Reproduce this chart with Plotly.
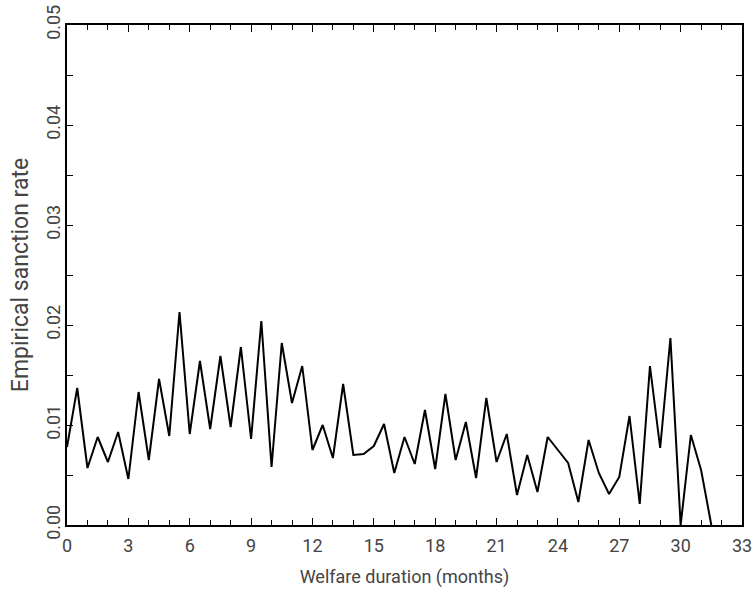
import plotly.graph_objects as go

months = [i * 0.5 for i in range(64)]
sanction_rate = [
    0.0078, 0.0137, 0.0057, 0.0088, 0.0063, 0.0093, 0.0046, 0.0133,
    0.0065, 0.0146, 0.0089, 0.0213, 0.0091, 0.0164, 0.0096, 0.0169,
    0.0098, 0.0178, 0.0086, 0.0204, 0.0058, 0.0182, 0.0122, 0.0159,
    0.0075, 0.0100, 0.0067, 0.0141, 0.0070, 0.0071, 0.0079, 0.0101,
    0.0052, 0.0088, 0.0061, 0.0115, 0.0056, 0.0131, 0.0065, 0.0103,
    0.0047, 0.0127, 0.0063, 0.0091, 0.0030, 0.0070, 0.0033, 0.0088,
    0.0075, 0.0062, 0.0023, 0.0085, 0.0052, 0.0031, 0.0048, 0.0109,
    0.0021, 0.0159, 0.0077, 0.0187, 0.0000, 0.0090, 0.0055, 0.0000,
]
x_ticks = list(range(0, 34, 3))
y_ticks = [0.0, 0.01, 0.02, 0.03, 0.04, 0.05]

fig = go.Figure()
fig.add_trace(go.Scatter(x=months, y=sanction_rate, mode="lines",
                         line=dict(color="black", width=2), showlegend=False,
                         hoverinfo="skip"))

tick_font = dict(family="Roboto", size=18, color="#444")
fig.update_layout(
    width=755, height=591,
    margin=dict(l=67, r=13, t=25, b=66),
    plot_bgcolor="white", paper_bgcolor="white",
    font=tick_font,
)
fig.update_xaxes(
    range=[0, 33], tickvals=x_ticks, ticktext=[str(v) for v in x_ticks],
    showgrid=False, zeroline=False, automargin=False,
    showline=True, linecolor="black", linewidth=2, mirror="ticks",
    ticks="inside", ticklen=7, tickwidth=1, tickcolor="black",
    minor=dict(ticks="inside", ticklen=5, dtick=1, tickwidth=1, tickcolor="black", showgrid=False),
    title=dict(text="Welfare duration (months)", font=dict(family="Roboto", size=18, color="#444"), standoff=16),
    tickfont=tick_font, ticklabelstandoff=3, ticklabeloverflow="allow",
)
fig.update_yaxes(
    range=[0, 0.05], tickvals=y_ticks, ticktext=[f"{v:.2f}" for v in y_ticks],
    showgrid=False, zeroline=False, automargin=False,
    showline=True, linecolor="black", linewidth=2, mirror="ticks",
    ticks="inside", ticklen=6, tickwidth=1, tickcolor="black",
    minor=dict(ticks="inside", ticklen=6, dtick=0.005, tickwidth=1, tickcolor="black", showgrid=False),
    tickangle=-90,
    title=dict(text="Empirical sanction rate", font=dict(family="Roboto", size=23, color="#444"), standoff=8),
    tickfont=tick_font, ticklabelstandoff=-2, ticklabeloverflow="allow",
)
fig.write_html("out.html", config={"displayModeBar": False},
               post_script="document.body.style.margin='0';")
